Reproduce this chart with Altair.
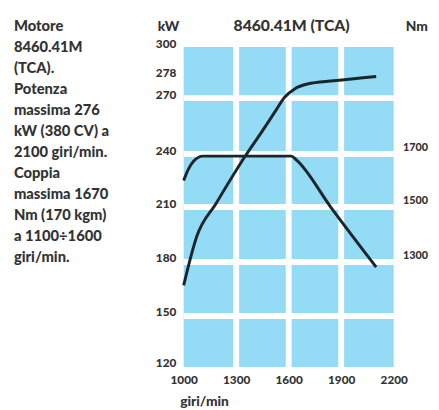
import altair as alt
import pandas as pd

# ---- data ----
rpm_power = [1000, 1075, 1185, 1353, 1447, 1521, 1578, 1634, 1707, 1858, 2100]
kw_power = [167, 194, 212, 239, 252, 262.6, 270.4, 273.4, 275.2, 276.4, 278]

rpm_torque = [1000, 1025, 1055, 1110, 1615, 1645, 1840, 2100]
nm_torque = [1600, 1640, 1672, 1692, 1692, 1677, 1500, 1281]

x_ticks = [1000, 1300, 1600, 1900, 2200]
kw_ticks = [300, 278, 270, 240, 210, 180, 150, 120]
nm_ticks = [1700, 1500, 1300]
kw_grid = [150, 180, 210, 240, 270]
rpm_grid = [1300, 1600, 1900]

description = [
    "Motore",
    "8460.41M",
    "(TCA).",
    "Potenza",
    "massima 276",
    "kW (380 CV) a",
    "2100 giri/min.",
    "Coppia",
    "massima 1670",
    "Nm (170 kgm)",
    "a 1100÷1600",
    "giri/min.",
]
chart_title = "8460.41M (TCA)"

# ---- style ----
FONT = "Lato"
TXT = "#333333"
BLUE = "#94dbf6"
LINE = "#1b262c"
W, H = 214, 326

# piecewise (hand-drawn) vertical scale of the original
kw_breaks = [120, 150, 180, 210, 240, 270, 278, 300]
px_breaks = [326, 274, 219, 163, 109, 52, 30, 0]
nm_breaks = [b * 20 / 3 + 100 for b in kw_breaks]

x_scale = alt.Scale(domain=[1000, 2200], nice=False, zero=False)
kw_scale = alt.Scale(domain=kw_breaks, range=px_breaks, nice=False, zero=False)
nm_scale = alt.Scale(domain=nm_breaks, range=px_breaks, nice=False, zero=False)

x_axis = alt.Axis(
    values=x_ticks, format="d", title="giri/min", grid=False, ticks=False, domain=False,
    labelFont=FONT, labelFontSize=12, labelFontWeight=900, labelColor=TXT,
    labelPadding=8, labelFlush=False,
    titleFont=FONT, titleFontSize=14, titleFontWeight=900, titleColor=TXT,
    titleAnchor="start", titleAlign="left", titleX=-4, titleY=35, titleBaseline="middle",
)

X = alt.X("rpm:Q", scale=x_scale, axis=x_axis)

hgrid = alt.Chart(pd.DataFrame({"kw": kw_grid})).mark_rule(
    color="white", strokeWidth=6
).encode(y=alt.Y("kw:Q", scale=kw_scale, axis=None))

vgrid = alt.Chart(pd.DataFrame({"rpm": rpm_grid})).mark_rule(
    color="white", strokeWidth=6
).encode(x=X)

power = alt.Chart(pd.DataFrame({"rpm": rpm_power, "kw": kw_power})).mark_line(
    color=LINE, strokeWidth=3, interpolate="monotone"
).encode(
    x=X,
    y=alt.Y(
        "kw:Q", scale=kw_scale,
        axis=alt.Axis(
            orient="left", values=kw_ticks, format="d", grid=False, ticks=False, domain=False,
            labelFont=FONT, labelFontSize=12, labelFontWeight=900, labelColor=TXT,
            labelPadding=8, labelOffset=-4, labelFlush=False, labelOverlap=False,
            title="kW", titleAngle=0, titleX=-16, titleY=-21, titleAlign="center",
            titleBaseline="middle", titleFont=FONT, titleFontSize=14,
            titleFontWeight=900, titleColor=TXT,
        ),
    ),
)

torque = alt.Chart(pd.DataFrame({"rpm": rpm_torque, "nm": nm_torque})).mark_line(
    color=LINE, strokeWidth=3, interpolate="monotone"
).encode(
    x=X,
    y=alt.Y(
        "nm:Q", scale=nm_scale,
        axis=alt.Axis(
            orient="right", values=nm_ticks, format="d", grid=False, ticks=False, domain=False,
            labelFont=FONT, labelFontSize=11, labelFontWeight=900, labelColor=TXT,
            labelPadding=9, labelOffset=-7, labelFlush=False, labelOverlap=False,
            title="Nm", titleAngle=0, titleX=23, titleY=-21, titleAlign="center",
            titleBaseline="middle", titleFont=FONT, titleFontSize=14,
            titleFontWeight=900, titleColor=TXT,
        ),
    ),
)

title_txt = alt.Chart(pd.DataFrame({"t": [chart_title]})).mark_text(
    font=FONT, fontSize=16, fontWeight=900, color=TXT, align="center", baseline="middle"
).encode(x=alt.value(W / 2 + 3), y=alt.value(-21), text="t:N")

desc_txt = alt.Chart(pd.DataFrame({"t": ["\n".join(description)]})).mark_text(
    font=FONT, fontSize=15, fontWeight=900, color=TXT, align="left", baseline="top",
    lineBreak="\n", lineHeight=21.4
).encode(x=alt.value(-173), y=alt.value(-28), text="t:N")

chart = alt.layer(hgrid, vgrid, power, torque, title_txt, desc_txt).resolve_scale(
    y="independent"
).properties(
    width=W, height=H,
    autosize=alt.AutoSizeParams(type="none"),
    padding={"left": 179, "top": 36, "right": 38, "bottom": 38},
).configure_view(fill=BLUE, stroke=None)

chart.save("out.html", embed_options={"renderer": "svg", "actions": False})
